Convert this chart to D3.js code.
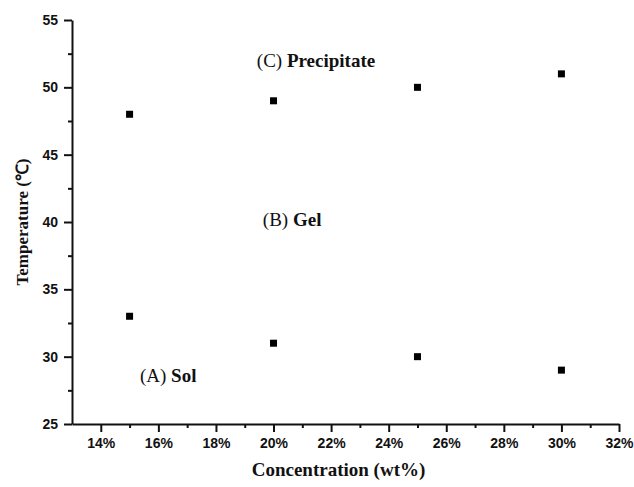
<!DOCTYPE html>
<html>
<head>
<meta charset="utf-8">
<script src="https://cdn.jsdelivr.net/npm/d3@7"></script>
<style>
  body { margin: 0; background: #fff; }
</style>
</head>
<body>
<script>
// concentration (wt%) of each sample
var conc = [15, 20, 25, 30]
// sol-gel and gel-precipitate transition temperatures (°C)
var solGel = [33, 31, 30, 29]
var gelPrecip = [48, 49, 50, 51]

var xTicks = [14, 16, 18, 20, 22, 24, 26, 28, 30, 32]
var yTicks = [25, 30, 35, 40, 45, 50, 55]

// region labels, placed in data units
var notes = [
  {pre: '(C)', bold: 'Precipitate', x: 19.42, y: 51.5},
  {pre: '(B)', bold: 'Gel', x: 19.63, y: 39.7},
  {pre: '(A)', bold: 'Sol', x: 15.36, y: 28.1}
]

var serif = '"Liberation Serif", "Times New Roman", serif'
var sans = '"Liberation Sans", Arial, sans-serif'

var margin = {left: 72, right: 15, top: 20, bottom: 63}
var width = 634 - margin.left - margin.right
var height = 487 - margin.top - margin.bottom

var x = d3.scaleLinear().domain([13, 32]).range([0, width])
var y = d3.scaleLinear().domain([25, 55]).range([height, 0])

var svg = d3.select('body').append('svg').attr('width', 634).attr('height', 487)
var g = svg.append('g').attr('transform', `translate(${margin.left},${margin.top})`)

function styleAxis(sel) {
  sel.selectAll('path, line').attr('stroke', '#111').attr('stroke-width', 2)
  sel.selectAll('text')
    .attr('fill', '#111')
    .style('font-family', sans)
    .style('font-weight', 'bold')
    .style('font-size', '14px')
}

// minor ticks first, major axis on top
g.append('g')
  .attr('transform', `translate(0,${height})`)
  .call(d3.axisBottom(x).tickValues(d3.range(15, 32, 2)).tickSize(4).tickFormat(''))
  .call(styleAxis)
  .select('.domain').remove()
g.append('g')
  .call(d3.axisLeft(y).tickValues(d3.range(27.5, 55, 5)).tickSize(4).tickFormat(''))
  .call(styleAxis)
  .select('.domain').remove()

g.append('g').attr('class', 'axis x')
  .attr('transform', `translate(0,${height})`)
  .call(d3.axisBottom(x).tickValues(xTicks).tickSize(8).tickSizeOuter(0).tickPadding(6).tickFormat(d => d + '%'))
  .call(styleAxis)

g.append('g').attr('class', 'axis y')
  .call(d3.axisLeft(y).tickValues(yTicks).tickSize(8).tickSizeOuter(0).tickPadding(6))
  .call(styleAxis)

// data points
var sz = 7
var series = [solGel, gelPrecip]
series.forEach(function (vals) {
  g.selectAll(null).data(vals).enter().append('rect')
    .attr('x', (d, i) => x(conc[i]) - sz / 2)
    .attr('y', d => y(d) - sz / 2)
    .attr('width', sz).attr('height', sz)
    .attr('fill', '#000')
})

// region labels
var t = g.selectAll('.note').data(notes).enter().append('text')
  .attr('class', 'note')
  .attr('x', d => x(d.x))
  .attr('y', d => y(d.y))
  .attr('fill', '#111')
  .style('font-family', serif)
  .style('font-size', '19px')
t.append('tspan').text(d => d.pre + ' ')
t.append('tspan').style('font-weight', 'bold').text(d => d.bold)

// axis titles
g.append('text')
  .attr('x', width / 2 - 7).attr('y', height + 52)
  .attr('text-anchor', 'middle')
  .attr('fill', '#111')
  .style('font-family', serif).style('font-weight', 'bold').style('font-size', '19px')
  .text('Concentration (wt%)')

g.append('text')
  .attr('transform', `translate(-44,${height / 2}) rotate(-90)`)
  .attr('text-anchor', 'middle')
  .attr('fill', '#111')
  .style('font-family', serif).style('font-weight', 'bold').style('font-size', '17px')
  .text('Temperature (℃)')
</script>
</body>
</html>
